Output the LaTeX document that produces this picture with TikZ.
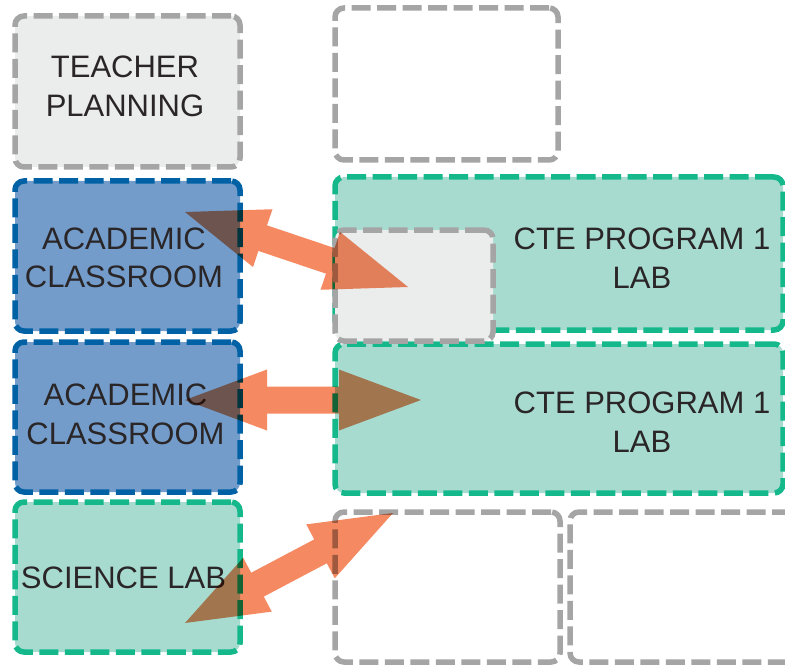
\documentclass[tikz,border=0pt]{standalone}
\usepackage{fontspec}
\setmainfont{Liberation Sans}
\usetikzlibrary{calc}
\definecolor{greyline}{HTML}{A6A5A5}
\definecolor{greyfill}{HTML}{EBECEC}
\definecolor{blueline}{HTML}{0061A4}
\definecolor{bluefill}{HTML}{739CCB}
\definecolor{greenline}{HTML}{14B88B}
\definecolor{greenfill}{HTML}{A8DBD0}
\definecolor{txt}{HTML}{2A2627}
\definecolor{arrowc}{HTML}{F58A62}
\newcommand\blockarrow[2]{%
  \fill[arrowc] (#1)
    -- ($(#1)!82pt!(#2)!30.5pt!90:(#2)$)
    -- ($(#1)!82pt!(#2)!13.5pt!90:(#2)$)
    -- ($(#2)!82pt!(#1)!13.5pt!-90:(#1)$)
    -- ($(#2)!82pt!(#1)!30.5pt!-90:(#1)$)
    -- (#2)
    -- ($(#2)!82pt!(#1)!30.5pt!90:(#1)$)
    -- ($(#2)!82pt!(#1)!13.5pt!90:(#1)$)
    -- ($(#1)!82pt!(#2)!13.5pt!-90:(#2)$)
    -- ($(#1)!82pt!(#2)!30.5pt!-90:(#2)$)
    -- cycle;}
\begin{document}
\begin{tikzpicture}[x=1pt,y=-1pt,
  box/.style={rectangle, rounded corners=9pt, line width=5.5pt,
    dash pattern=on 19pt off 6.5pt, inner sep=0pt},
  greybox/.style={box, draw=greyline, fill=greyfill},
  emptybox/.style={box, draw=greyline, fill=white},
  bluebox/.style={box, draw=blueline, fill=bluefill},
  greenbox/.style={box, draw=greenline, fill=greenfill},
  lbl/.style={text=txt, align=center, inner sep=0pt,
    font=\fontsize{31}{38.5}\selectfont}]
\useasboundingbox (0,0) rectangle (785,666);
\clip (0,0) rectangle (785,666);
% left column
\node[greybox, minimum width=225pt, minimum height=151pt] (teacher) at (127.5,91.5) {};
\node[bluebox, minimum width=225pt, minimum height=150pt] (acad1) at (127.5,256) {};
\node[bluebox, minimum width=225pt, minimum height=150pt] (acad2) at (127.5,417) {};
\node[greenbox, minimum width=225pt, minimum height=150pt] (science) at (127.5,577) {};
% right column
\node[emptybox, minimum width=223pt, minimum height=152pt] (topempty) at (446.5,84) {};
\node[greenbox, minimum width=448pt, minimum height=149pt] (cte2) at (559,418.5) {};
\node[greenbox, minimum width=448pt, minimum height=153pt] (cte1) at (559,253.5) {};
\node[greybox, minimum width=158pt, minimum height=111pt] (inner) at (414,285.5) {};
\node[emptybox, minimum width=225pt, minimum height=150pt] (botempty1) at (447.5,587) {};
\node[emptybox, minimum width=230pt, minimum height=150pt] (botempty2) at (685,587) {};
% texts
\node[lbl] (teachert) at (125,86.5) {TEACHER\\PLANNING};
\node[lbl] (acad1t) at (124,258) {ACADEMIC\\CLASSROOM};
\node[lbl] (acad2t) at (125.5,414.5) {ACADEMIC\\CLASSROOM};
\node[lbl] (sciencet) at (123.5,578) {SCIENCE LAB};
\node[lbl] (cte1t) at (642,258) {CTE PROGRAM 1\\LAB};
\node[lbl] (cte2t) at (642,422) {CTE PROGRAM 1\\LAB};
% arrows
\coordinate (a1) at (185,212);
\coordinate (b1) at (408,287);
\coordinate (a2) at (185,400);
\coordinate (b2) at (421,400);
\coordinate (a3) at (185,623);
\coordinate (b3) at (393,513);
\begin{scope}[blend mode=multiply]
\blockarrow{a1}{b1}
\blockarrow{a2}{b2}
\blockarrow{a3}{b3}
\end{scope}
\end{tikzpicture}
\end{document}
